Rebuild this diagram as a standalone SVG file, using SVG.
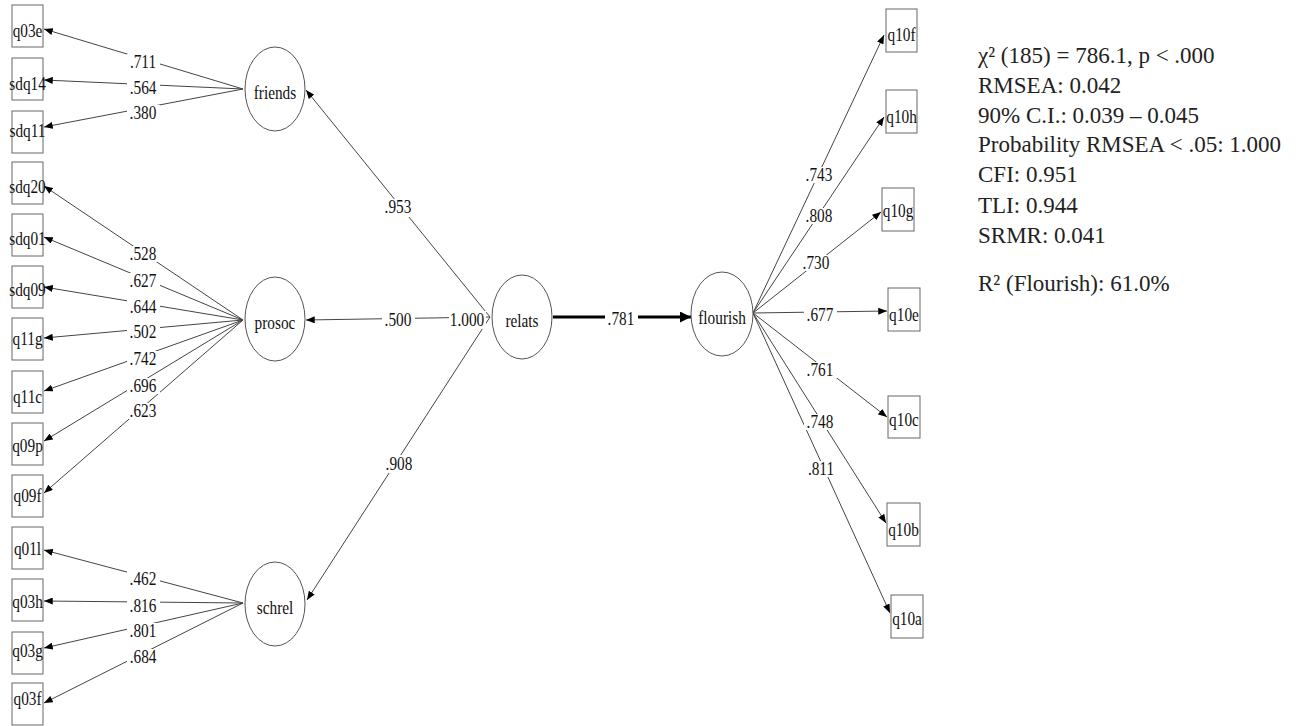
<svg xmlns="http://www.w3.org/2000/svg" width="1299" height="726" viewBox="0 0 1299 726">
<defs>
<style>
.ln{stroke:#444;stroke-width:1;fill:none}
.box{fill:#fff;stroke:#666;stroke-width:1}
.lat{fill:#fff;stroke:#555;stroke-width:1}
.t{font-size:18px;fill:#111;text-anchor:middle;transform:scaleX(0.85);transform-box:fill-box;transform-origin:center}
.bg{fill:#fff}
.st{font-size:23px;fill:#222}
</style>
<marker id="ah" viewBox="0 0 10 8" markerWidth="9" markerHeight="7" refX="10" refY="4" orient="auto" markerUnits="userSpaceOnUse"><path d="M0,0 L10,4 L0,8 z" fill="#000"/></marker>
<marker id="ahb" viewBox="0 0 10 10" markerWidth="12" markerHeight="11" refX="10" refY="5" orient="auto" markerUnits="userSpaceOnUse"><path d="M0,0 L10,5 L0,10 z" fill="#000"/></marker>
</defs>
<rect width="1299" height="726" fill="#fff"/>
<g font-family="Liberation Serif, DejaVu Serif, serif">
<g id="connectors">
<line class="ln" x1="243" y1="89" x2="44" y2="29" marker-end="url(#ah)"/>
<line class="ln" x1="243" y1="89" x2="44" y2="80" marker-end="url(#ah)"/>
<line class="ln" x1="243" y1="89" x2="44" y2="127" marker-end="url(#ah)"/>
<line class="ln" x1="243" y1="320" x2="44" y2="186" marker-end="url(#ah)"/>
<line class="ln" x1="243" y1="320" x2="44" y2="237" marker-end="url(#ah)"/>
<line class="ln" x1="243" y1="320" x2="44" y2="287" marker-end="url(#ah)"/>
<line class="ln" x1="243" y1="320" x2="44" y2="338" marker-end="url(#ah)"/>
<line class="ln" x1="243" y1="320" x2="44" y2="391" marker-end="url(#ah)"/>
<line class="ln" x1="243" y1="320" x2="44" y2="441" marker-end="url(#ah)"/>
<line class="ln" x1="243" y1="320" x2="44" y2="493" marker-end="url(#ah)"/>
<line class="ln" x1="243" y1="603" x2="44" y2="550" marker-end="url(#ah)"/>
<line class="ln" x1="243" y1="603" x2="44" y2="601" marker-end="url(#ah)"/>
<line class="ln" x1="243" y1="603" x2="44" y2="648" marker-end="url(#ah)"/>
<line class="ln" x1="243" y1="603" x2="44" y2="703" marker-end="url(#ah)"/>
<line class="ln" x1="490" y1="317" x2="306" y2="90" marker-end="url(#ah)"/>
<line class="ln" x1="490" y1="317" x2="306" y2="320" marker-end="url(#ah)"/>
<line class="ln" x1="490" y1="317" x2="307" y2="600" marker-end="url(#ah)"/>
<line x1="553" y1="317" x2="691" y2="317" stroke="#000" stroke-width="3" marker-end="url(#ahb)"/>
<line class="ln" x1="753" y1="313" x2="884" y2="35" marker-end="url(#ah)"/>
<line class="ln" x1="753" y1="313" x2="884" y2="117" marker-end="url(#ah)"/>
<line class="ln" x1="753" y1="313" x2="881" y2="212" marker-end="url(#ah)"/>
<line class="ln" x1="753" y1="313" x2="887" y2="311" marker-end="url(#ah)"/>
<line class="ln" x1="753" y1="313" x2="887" y2="417" marker-end="url(#ah)"/>
<line class="ln" x1="753" y1="313" x2="886" y2="523" marker-end="url(#ah)"/>
<line class="ln" x1="753" y1="313" x2="890" y2="613" marker-end="url(#ah)"/>

<rect class="bg" x="127" y="54" width="33" height="16"/><text class="t" x="143" y="68">.711</text>
<rect class="bg" x="127" y="80" width="33" height="16"/><text class="t" x="143" y="94">.564</text>
<rect class="bg" x="127" y="105" width="33" height="16"/><text class="t" x="143" y="119">.380</text>
<rect class="bg" x="127" y="246" width="33" height="16"/><text class="t" x="143" y="260">.528</text>
<rect class="bg" x="127" y="273" width="33" height="16"/><text class="t" x="143" y="287">.627</text>
<rect class="bg" x="127" y="299" width="33" height="16"/><text class="t" x="143" y="313">.644</text>
<rect class="bg" x="127" y="324" width="33" height="16"/><text class="t" x="143" y="338">.502</text>
<rect class="bg" x="127" y="351" width="33" height="16"/><text class="t" x="143" y="365">.742</text>
<rect class="bg" x="127" y="378" width="33" height="16"/><text class="t" x="143" y="392">.696</text>
<rect class="bg" x="127" y="403" width="33" height="16"/><text class="t" x="143" y="417">.623</text>
<rect class="bg" x="127" y="571" width="33" height="16"/><text class="t" x="143" y="585">.462</text>
<rect class="bg" x="127" y="598" width="33" height="16"/><text class="t" x="143" y="612">.816</text>
<rect class="bg" x="127" y="623" width="33" height="16"/><text class="t" x="143" y="637">.801</text>
<rect class="bg" x="127" y="649" width="33" height="16"/><text class="t" x="143" y="663">.684</text>
<rect class="bg" x="382" y="199" width="33" height="18"/><text class="t" x="398" y="213">.953</text>
<rect class="bg" x="382" y="312" width="33" height="16"/><text class="t" x="398" y="326">.500</text>
<rect class="bg" x="449" y="311" width="37" height="18"/><text class="t" x="467" y="326">1.000</text>
<rect class="bg" x="382" y="455" width="33" height="18"/><text class="t" x="399" y="470">.908</text>
<rect class="bg" x="605" y="310" width="33" height="16"/><text class="t" x="621" y="325">.781</text>
<rect class="bg" x="803" y="167" width="33" height="16"/><text class="t" x="819" y="181">.743</text>
<rect class="bg" x="803" y="208" width="33" height="16"/><text class="t" x="819" y="222">.808</text>
<rect class="bg" x="800" y="255" width="33" height="16"/><text class="t" x="816" y="269">.730</text>
<rect class="bg" x="804" y="307" width="33" height="16"/><text class="t" x="820" y="321">.677</text>
<rect class="bg" x="804" y="362" width="33" height="16"/><text class="t" x="820" y="376">.761</text>
<rect class="bg" x="804" y="414" width="33" height="16"/><text class="t" x="820" y="428">.748</text>
<rect class="bg" x="805" y="461" width="33" height="16"/><text class="t" x="821" y="475">.811</text>
</g>

<g id="q03e"><rect class="box" x="12" y="5" width="31" height="42"/><text class="t" x="27.5" y="37">q03e</text></g>
<g id="sdq14"><rect class="box" x="12" y="58" width="31" height="42"/><text class="t" x="27.5" y="90">sdq14</text></g>
<g id="sdq11"><rect class="box" x="12" y="111" width="31" height="42"/><text class="t" x="27.5" y="137">sdq11</text></g>
<g id="sdq20"><rect class="box" x="12" y="162" width="31" height="42"/><text class="t" x="27.5" y="193">sdq20</text></g>
<g id="sdq01"><rect class="box" x="12" y="214" width="31" height="42"/><text class="t" x="27.5" y="245">sdq01</text></g>
<g id="sdq09"><rect class="box" x="12" y="266" width="31" height="42"/><text class="t" x="27.5" y="296">sdq09</text></g>
<g id="q11g"><rect class="box" x="12" y="318" width="31" height="42"/><text class="t" x="27.5" y="345">q11g</text></g>
<g id="q11c"><rect class="box" x="12" y="371" width="31" height="42"/><text class="t" x="27.5" y="403">q11c</text></g>
<g id="q09p"><rect class="box" x="12" y="423" width="31" height="42"/><text class="t" x="27.5" y="452">q09p</text></g>
<g id="q09f"><rect class="box" x="12" y="475" width="31" height="42"/><text class="t" x="27.5" y="502">q09f</text></g>
<g id="q01l"><rect class="box" x="12" y="527" width="31" height="42"/><text class="t" x="27.5" y="555">q01l</text></g>
<g id="q03h"><rect class="box" x="12" y="579" width="31" height="42"/><text class="t" x="27.5" y="608">q03h</text></g>
<g id="q03g"><rect class="box" x="12" y="632" width="31" height="42"/><text class="t" x="27.5" y="657">q03g</text></g>
<g id="q03f"><rect class="box" x="12" y="683" width="31" height="42"/><text class="t" x="27.5" y="705">q03f</text></g>

<g id="friends"><ellipse class="lat" cx="275" cy="89" rx="30" ry="42"/><text class="t" x="275" y="99">friends</text></g>
<g id="prosoc"><ellipse class="lat" cx="275" cy="319" rx="30" ry="42"/><text class="t" x="275" y="329">prosoc</text></g>
<g id="schrel"><ellipse class="lat" cx="275" cy="604" rx="30" ry="42"/><text class="t" x="275" y="614">schrel</text></g>
<g id="relats"><ellipse class="lat" cx="522" cy="317" rx="30" ry="42"/><text class="t" x="522" y="327">relats</text></g>
<g id="flourish"><ellipse class="lat" cx="722" cy="314" rx="31" ry="42"/><text class="t" x="722" y="324">flourish</text></g>

<g id="q10f"><rect class="box" x="886" y="9" width="31" height="43"/><text class="t" x="901.5" y="41">q10f</text></g>
<g id="q10h"><rect class="box" x="886" y="90" width="31" height="43"/><text class="t" x="901.5" y="123">q10h</text></g>
<g id="q10g"><rect class="box" x="882" y="188" width="32" height="43"/><text class="t" x="898" y="217">q10g</text></g>
<g id="q10e"><rect class="box" x="888" y="288" width="32" height="43"/><text class="t" x="904" y="321">q10e</text></g>
<g id="q10c"><rect class="box" x="888" y="396" width="32" height="42"/><text class="t" x="904" y="426">q10c</text></g>
<g id="q10b"><rect class="box" x="887" y="503" width="33" height="43"/><text class="t" x="903.5" y="536">q10b</text></g>
<g id="q10a"><rect class="box" x="891" y="595" width="32" height="43"/><text class="t" x="907" y="625">q10a</text></g>

<g id="fit-stats">
<text class="st" x="978" y="63">χ² (185) = 786.1, p &lt; .000</text>
<text class="st" x="978" y="93">RMSEA: 0.042</text>
<text class="st" x="978" y="123">90% C.I.: 0.039 – 0.045</text>
<text class="st" x="978" y="152">Probability RMSEA &lt; .05: 1.000</text>
<text class="st" x="978" y="182">CFI: 0.951</text>
<text class="st" x="978" y="213">TLI: 0.944</text>
<text class="st" x="978" y="243">SRMR: 0.041</text>
<text class="st" x="978" y="291">R² (Flourish): 61.0%</text>
</g>
</g>
</svg>
